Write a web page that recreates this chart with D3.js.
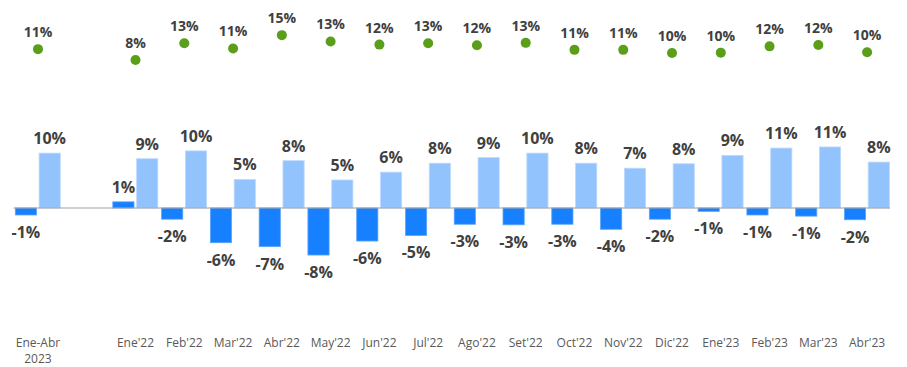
<!DOCTYPE html>
<html>
<head>
<meta charset="utf-8">
<script src="https://cdn.jsdelivr.net/npm/d3@7"></script>
<style>
  body { margin: 0; background: #fff; }
  svg { display: block; }
</style>
</head>
<body>
<div class="chart"></div>
<script>
// data (values in %)
const categories = ["Ene-Abr 2023", "Ene'22", "Feb'22", "Mar'22", "Abr'22", "May'22", "Jun'22",
  "Jul'22", "Ago'22", "Set'22", "Oct'22", "Nov'22", "Dic'22", "Ene'23", "Feb'23", "Mar'23", "Abr'23"];
const darkValues = [-1.25, 1.1, -2.0, -6.2, -6.9, -8.4, -5.9, -4.9, -2.9, -3.0, -2.9, -3.8, -2.0, -0.6, -1.25, -1.45, -2.1];
const lightValues = [9.8, 8.8, 10.2, 5.1, 8.45, 5.0, 6.4, 8.0, 9.0, 9.8, 8.0, 7.1, 7.9, 9.4, 10.7, 10.9, 8.2];
const dotValues = [11.1, 8.0, 12.8, 11.3, 15.1, 13.3, 12.4, 12.8, 12.2, 12.9, 10.9, 10.9, 10.0, 10.1, 11.9, 12.3, 10.2];

const width = 907;
const height = 367;

const fmt = d3.formatLocale({ decimal: ".", thousands: ",", grouping: [3], currency: ["", ""], minus: "-" })
  .format(".0%");

// one empty slot between the yearly figure and the months
const domain = [categories[0], "__gap__", ...categories.slice(1)];

const rows = categories.map((c, i) => ({
  cat: c, dark: darkValues[i], light: lightValues[i], dot: dotValues[i]
}));

const svg = d3.select('.chart')
  .append('svg')
    .attr('width', width)
    .attr('height', height);

const x = d3.scaleBand()
  .domain(domain)
  .range([13.6, 891.5]);

const xInner = d3.scaleBand()
  .domain(["dark", "light"])
  .range([x.bandwidth() / 2 - 22.7, x.bandwidth() / 2 + 22.3])
  .paddingInner(0.11);

const y = d3.scaleLinear()
  .domain([-15, 20])
  .range([292, 96]);

const yDot = d3.scaleLinear()
  .domain([0, 20])
  .range([88, 18]);

const groups = svg.selectAll('g.cat')
  .data(rows)
  .enter()
  .append('g')
    .attr('class', 'cat')
    .attr('transform', d => `translate(${x(d.cat)},0)`);

// bars
const series = [
  { key: "dark", fill: "#1680FF", stroke: "#5AA3FF" },
  { key: "light", fill: "#93C3FD", stroke: "#BCD9FE" }
];

series.forEach(s => {
  groups.append('rect')
    .attr('x', xInner(s.key))
    .attr('width', xInner.bandwidth())
    .attr('y', d => y(Math.max(0, d[s.key])))
    .attr('height', d => Math.abs(y(d[s.key]) - y(0)))
    .style('fill', s.fill)
    .style('stroke', s.stroke)
    .style('stroke-width', 0.8);

  groups.append('text')
    .attr('x', xInner(s.key) + xInner.bandwidth() / 2)
    .attr('y', d => d[s.key] >= 0 ? y(d[s.key]) - 9 : y(d[s.key]) + 23)
    .attr('text-anchor', 'middle')
    .style('font-family', '"Open Sans", sans-serif')
    .style('font-weight', 700)
    .style('font-size', '16px')
    .style('fill', '#404040')
    .text(d => fmt(d[s.key] / 100));
});

// zero line
svg.append('line')
  .attr('x1', x.range()[0])
  .attr('x2', x.range()[1] - 1.5)
  .attr('y1', y(0))
  .attr('y2', y(0))
  .style('stroke', '#A0A0A0')
  .style('stroke-width', 1.2);

// dots
groups.append('circle')
  .attr('cx', x.bandwidth() / 2)
  .attr('cy', d => yDot(d.dot))
  .attr('r', 5)
  .style('fill', '#5A9E1A');

groups.append('text')
  .attr('x', x.bandwidth() / 2)
  .attr('y', d => yDot(d.dot) - 12)
  .attr('text-anchor', 'middle')
  .style('font-family', '"Open Sans", sans-serif')
  .style('font-weight', 700)
  .style('font-size', '14px')
  .style('fill', '#404040')
  .text(d => fmt(d.dot / 100));

// category labels
const xAxis = groups.append('text')
  .attr('x', x.bandwidth() / 2)
  .attr('y', 346.5)
  .attr('text-anchor', 'middle')
  .style('font-family', '"Open Sans", sans-serif')
  .style('font-size', '12px')
  .style('fill', '#595959');

xAxis.selectAll('tspan')
  .data(d => d.cat.split(" "))
  .enter()
  .append('tspan')
    .attr('x', x.bandwidth() / 2)
    .attr('dy', (d, i) => i === 0 ? 0 : 16)
    .text(d => d);
</script>
</body>
</html>
